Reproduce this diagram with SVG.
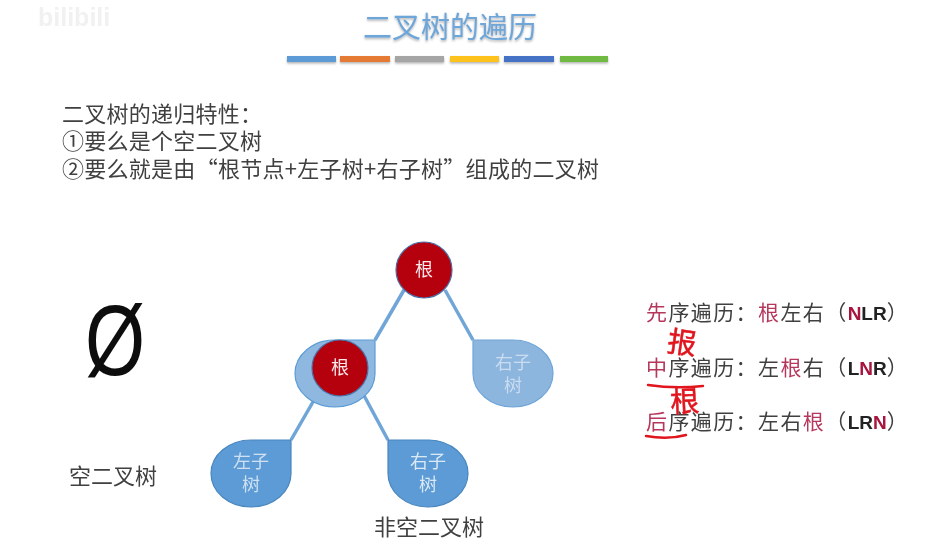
<svg xmlns="http://www.w3.org/2000/svg" width="927" height="549" viewBox="0 0 927 549">
<defs>
<filter id="soft" x="-5%" y="-5%" width="110%" height="110%"><feGaussianBlur stdDeviation="0.45"/></filter>
<filter id="shadow" x="-20%" y="-50%" width="140%" height="220%"><feDropShadow dx="0" dy="1.5" stdDeviation="1.2" flood-color="#555" flood-opacity="0.45"/></filter>
</defs>
<style>
text{font-family:"Noto Sans CJK SC","Liberation Sans",sans-serif}
.body{font-size:22px;fill:#3f3f3f}
.trav{font-size:21px;fill:#404040;letter-spacing:1.4px}
.r{fill:#b5385c}
.lat{font-family:"Liberation Sans","Noto Sans CJK SC",sans-serif;font-size:19px;letter-spacing:0;fill:#222;font-weight:700}
.n{fill:#a8123c}
.node{font-size:18px;text-anchor:middle}
.hw{fill:#e0141e;stroke:#e0141e;stroke-width:0.5;font-size:29px}
.ink{fill:none;stroke:#e0141e;stroke-width:2.4;stroke-linecap:round}
.edge{stroke:#6fa5d8;stroke-width:3.5;fill:none}
.bar{filter:url(#shadow)}
</style>
<rect width="927" height="549" fill="#fff"/>
<g filter="url(#soft)">
<text x="38" y="26" font-size="25" font-weight="700" fill="#f1f1f1" style="font-family:'Liberation Sans',sans-serif">bilibili</text>
<text x="363" y="38" font-size="29" fill="#6ea6d9" textLength="174" lengthAdjust="spacing" filter="url(#shadow)">二叉树的遍历</text>
<g id="title-bars">
<rect class="bar" x="287" y="56" width="49" height="6" fill="#5b9bd5"/>
<rect class="bar" x="340" y="56" width="50" height="6" fill="#e57a36"/>
<rect class="bar" x="395" y="56" width="49" height="6" fill="#a5a5a5"/>
<rect class="bar" x="450" y="56" width="49" height="6" fill="#fdc31e"/>
<rect class="bar" x="504" y="56" width="50" height="6" fill="#4472c4"/>
<rect class="bar" x="560" y="56" width="48" height="6" fill="#6fb942"/>
</g>
<g id="intro">
<text class="body" x="62" y="122" textLength="200" lengthAdjust="spacing">二叉树的递归特性：</text>
<text class="body" x="62" y="149" textLength="200" lengthAdjust="spacing">①要么是个空二叉树</text>
<text class="body" x="62" y="177" textLength="537" lengthAdjust="spacing">②要么就是由“根节点+左子树+右子树”组成的二叉树</text>
</g>
<g id="empty-tree">
<text x="0" y="0" text-anchor="middle" font-size="92" fill="#111" transform="translate(115 375) scale(0.84 1.08)" style="font-family:'Liberation Sans',sans-serif">Ø</text>
<text class="body" x="69" y="484" textLength="88" lengthAdjust="spacing">空二叉树</text>
</g>
<g id="connectors">
<path class="edge" d="M404 290L375 340"/>
<path class="edge" d="M445 290L473 340"/>
<path class="edge" d="M321 388L291 440"/>
<path class="edge" d="M361 390L388 440"/>
</g>
<g id="node-subtree-mid">
<path d="M375 340H335A40 33.5 0 1 0 375 373.5Z" fill="#8fb8e0" stroke="#5b9bd5" stroke-width="1.2"/>
</g>
<g id="node-right-top">
<path d="M473 340H513A40 33.5 0 1 1 473 373.5Z" fill="#8db6df" stroke="#6fa5d8" stroke-width="1.2"/>
<text class="node" x="513" y="369" fill="#c9dcf0">右子</text>
<text class="node" x="513" y="392" fill="#c9dcf0">树</text>
</g>
<g id="node-left">
<path d="M291 440H251A40 33.5 0 1 0 291 473.5Z" fill="#5b9bd5" stroke="#4a86bf" stroke-width="1.2"/>
<text class="node" x="251" y="468" fill="#cfe0f2">左子</text>
<text class="node" x="251" y="491" fill="#cfe0f2">树</text>
</g>
<g id="node-right-bottom">
<path d="M388 440H429A40 33.5 0 1 1 388 473.5Z" fill="#5b9bd5" stroke="#4a86bf" stroke-width="1.2"/>
<text class="node" x="428" y="468" fill="#dbe8f5">右子</text>
<text class="node" x="428" y="491" fill="#dbe8f5">树</text>
</g>
<g id="node-root">
<circle cx="424" cy="270" r="28" fill="#b50010" stroke="#4a6fa5" stroke-width="1.2"/>
<text class="node" x="424" y="276" fill="#fbe9e9" font-size="17">根</text>
</g>
<g id="node-root-left">
<circle cx="340" cy="368" r="28" fill="#b50010" stroke="#4a6fa5" stroke-width="1.2"/>
<text class="node" x="340" y="374" fill="#fbe9e9" font-size="17">根</text>
</g>
<text id="caption" class="body" x="374" y="535" textLength="110" lengthAdjust="spacing">非空二叉树</text>
<g id="traversals">
<text class="trav" x="646" y="320"><tspan class="r">先</tspan>序遍历：<tspan class="r">根</tspan>左右（<tspan class="lat n">N</tspan><tspan class="lat">LR</tspan>）</text>
<text class="trav" x="646" y="375"><tspan class="r">中</tspan>序遍历：左<tspan class="r">根</tspan>右（<tspan class="lat">L</tspan><tspan class="lat n">N</tspan><tspan class="lat">R</tspan>）</text>
<text class="trav" x="646" y="429"><tspan class="r">后</tspan>序遍历：左右<tspan class="r">根</tspan>（<tspan class="lat">LR</tspan><tspan class="lat n">N</tspan>）</text>
</g>
<g id="handwriting">
<text class="hw" x="668" y="353" transform="rotate(8 682 340)">报</text>
<text class="hw" x="670" y="412" transform="rotate(-3 684 400)">根</text>
<path class="ink" d="M648 385Q675 389 703 386"/>
<path class="ink" d="M646 436Q668 440 686 435"/>
</g>
</g>
</svg>
